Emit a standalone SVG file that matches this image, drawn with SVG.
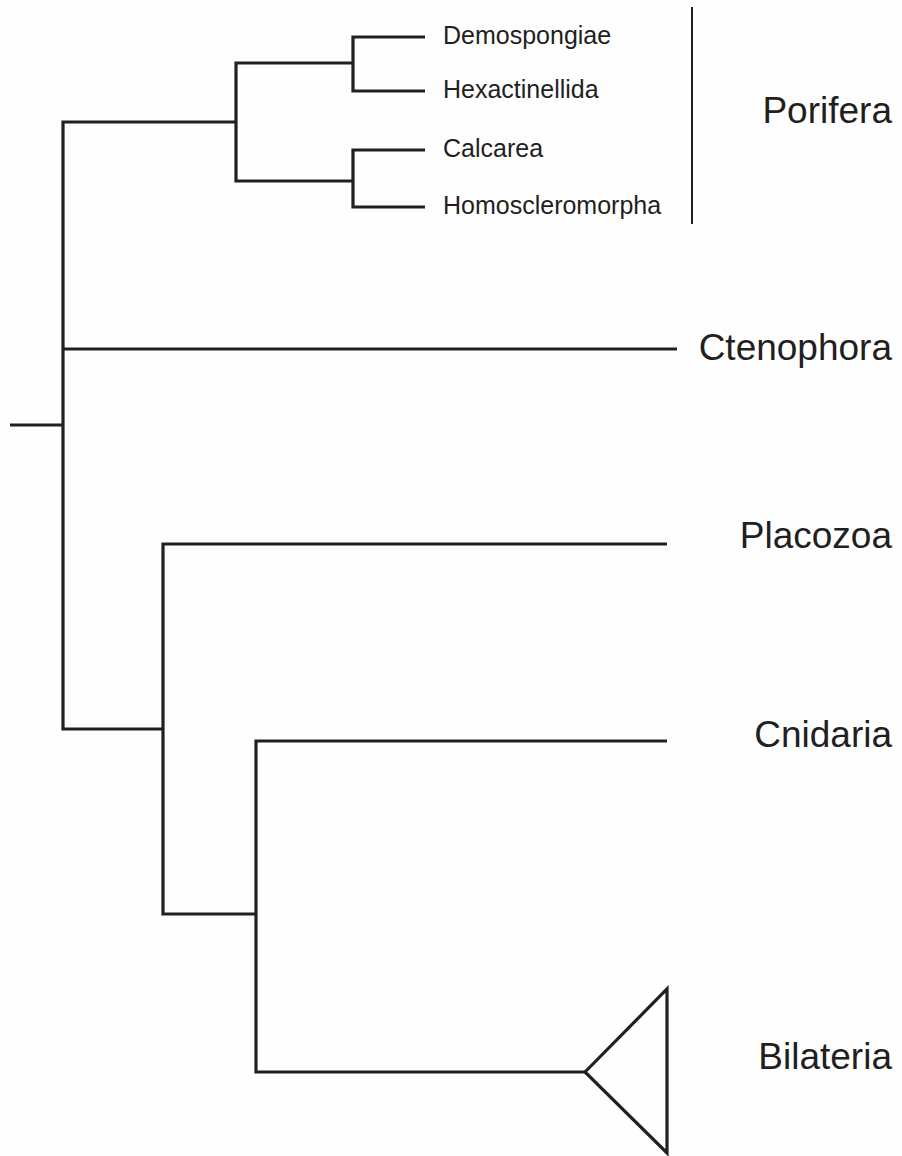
<svg xmlns="http://www.w3.org/2000/svg" width="902" height="1156" viewBox="0 0 902 1156">
  <style>
    .br { fill: none; stroke: #231f20; stroke-width: 3.2; stroke-linejoin: miter; stroke-linecap: butt; }
    .bar { fill: none; stroke: #231f20; stroke-width: 2; }
    .taxon { font-family: "Liberation Sans", Arial, sans-serif; font-size: 37px; fill: #231f20; text-anchor: end; }
    .sub { font-family: "Liberation Sans", Arial, sans-serif; font-size: 25px; fill: #231f20; }
  </style>
  <rect width="902" height="1156" fill="#fefefe"/>

  <!-- branches of the tree -->
  <g id="connectors">
    <path class="br" d="M10,425 H63"/>
    <path class="br" d="M236,122 H63 V729 H163"/>
    <path class="br" d="M353,63 H236 V181 H353"/>
    <path class="br" d="M425,37 H353 V91 H425"/>
    <path class="br" d="M425,150 H353 V207 H425"/>
    <path class="br" d="M63,349 H677"/>
    <path class="br" d="M667,544 H163 V914 H256"/>
    <path class="br" d="M667,741 H256 V1072 H585"/>
  </g>

  <!-- sponge classes -->
  <g id="demospongiae"><text class="sub" x="443" y="44">Demospongiae</text></g>
  <g id="hexactinellida"><text class="sub" x="443" y="98">Hexactinellida</text></g>
  <g id="calcarea"><text class="sub" x="443" y="157">Calcarea</text></g>
  <g id="homoscleromorpha"><text class="sub" x="443" y="214">Homoscleromorpha</text></g>

  <g id="porifera">
    <path class="bar" d="M692,7 V224"/>
    <text class="taxon" x="892" y="123">Porifera</text>
  </g>
  <g id="ctenophora"><text class="taxon" x="892" y="360">Ctenophora</text></g>
  <g id="placozoa"><text class="taxon" x="892" y="548">Placozoa</text></g>
  <g id="cnidaria"><text class="taxon" x="892" y="747">Cnidaria</text></g>
  <g id="bilateria">
    <path class="br" d="M585,1072 L667,989 V1153 Z"/>
    <text class="taxon" x="892" y="1069">Bilateria</text>
  </g>
</svg>
